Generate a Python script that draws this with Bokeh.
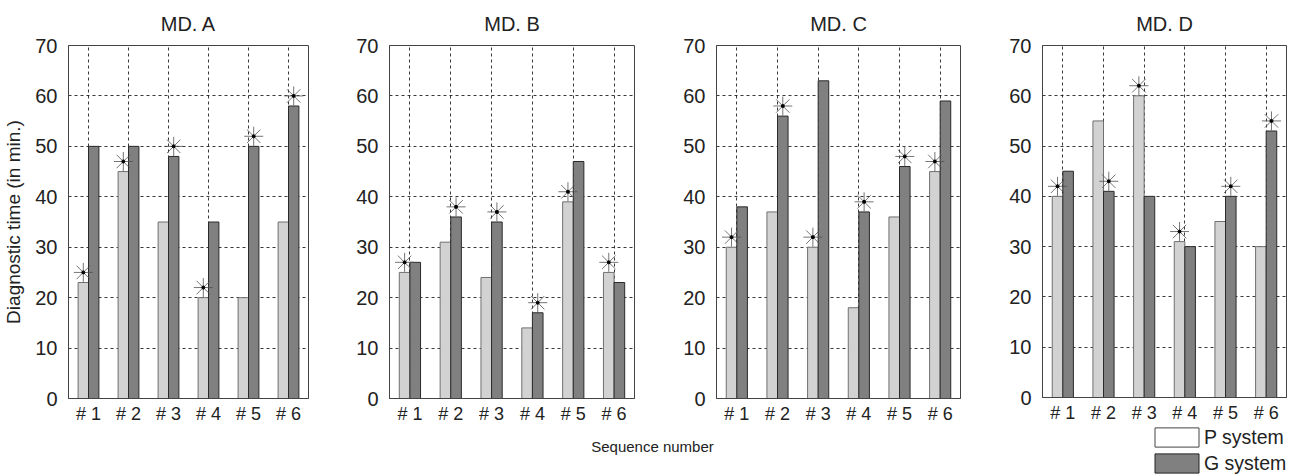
import numpy as np
from bokeh.plotting import figure
from bokeh.layouts import row, column
from bokeh.models import (ColumnDataSource, Range1d, FixedTicker, Label, Legend, LegendItem)
from bokeh.transform import dodge
from bokeh.embed import file_html
from bokeh.resources import INLINE

# ---------------- data ----------------
sequences = [1, 2, 3, 4, 5, 6]
tick_labels = ["# 1", "# 2", "# 3", "# 4", "# 5", "# 6"]
panel_titles = ["MD. A", "MD. B", "MD. C", "MD. D"]

p_system_a = [23, 45, 35, 20, 20, 35]
g_system_a = [50, 50, 48, 35, 50, 58]
star_side_a = ["P", "P", "G", "P", "G", "G"]
star_val_a = [25, 47, 50, 22, 52, 60]

p_system_b = [25, 31, 24, 14, 39, 25]
g_system_b = [27, 36, 35, 17, 47, 23]
star_side_b = ["P", "G", "G", "G", "P", "P"]
star_val_b = [27, 38, 37, 19, 41, 27]

p_system_c = [30, 37, 30, 18, 36, 45]
g_system_c = [38, 56, 63, 37, 46, 59]
star_side_c = ["P", "G", "P", "G", "G", "P"]
star_val_c = [32, 58, 32, 39, 48, 47]

p_system_d = [40, 55, 60, 31, 35, 30]
g_system_d = [45, 41, 40, 30, 40, 53]
star_side_d = ["P", "G", "P", "P", "G", "G"]
star_val_d = [42, 43, 62, 33, 42, 55]

y_ticks = [0, 10, 20, 30, 40, 50, 60, 70]
legend_labels = ["P system", "G system"]

series = [
    (p_system_a, g_system_a, star_side_a, star_val_a),
    (p_system_b, g_system_b, star_side_b, star_val_b),
    (p_system_c, g_system_c, star_side_c, star_val_c),
    (p_system_d, g_system_d, star_side_d, star_val_d),
]

# ---------------- style ----------------
FONT = "Liberation Sans"
TXT = "#222222"
P_FILL, P_LINE = "#d2d2d2", "#707070"
G_FILL, G_LINE = "#808080", "#2a2a2a"
BAR_W = 0.26

widths = [316, 326, 326, 337]
lefts = [63, 73, 74, 74]
rights = [8, 8, 8, 19]
heights = [428, 428, 428, 425]
FULL_H = 475
TOP = 42
FRAME_BOTTOM = 398

figs = []
for i, (pv, gv, side, sv) in enumerate(series):
    h = heights[i]
    p = figure(width=widths[i], height=h, output_backend="svg",
               toolbar_location=None, x_range=Range1d(0.5, 6.5),
               y_range=Range1d(0, 70),
               min_border_left=lefts[i], min_border_right=rights[i],
               min_border_top=TOP, min_border_bottom=h - FRAME_BOTTOM)
    p.title.text = panel_titles[i]
    p.title.align = "center"
    p.title.text_font = FONT
    p.title.text_font_size = "20px"
    p.title.text_font_style = "normal"
    p.title.text_color = TXT
    p.title.standoff = 21

    src = ColumnDataSource(dict(x=sequences, p=pv, g=gv))
    p.vbar(x=dodge("x", -BAR_W / 2), top="p", width=BAR_W, bottom=0,
           source=src, fill_color=P_FILL, line_color=P_LINE, line_width=1)
    p.vbar(x=dodge("x", BAR_W / 2), top="g", width=BAR_W, bottom=0,
           source=src, fill_color=G_FILL, line_color=G_LINE, line_width=1)

    sx = [s + (-BAR_W / 2 if side[k] == "P" else BAR_W / 2)
          for k, s in enumerate(sequences)]
    ssrc = ColumnDataSource(dict(x=sx, y=sv))
    p.scatter(x="x", y="y", source=ssrc, marker="asterisk", size=19,
              line_color="#505050", line_width=0.8)
    p.scatter(x="x", y="y", source=ssrc, marker="circle", size=3,
              fill_color="#000000", line_color="#000000")

    p.xaxis.ticker = FixedTicker(ticks=sequences)
    p.xaxis.major_label_overrides = {s: t for s, t in zip(sequences, tick_labels)}
    p.yaxis.ticker = FixedTicker(ticks=y_ticks)
    p.xgrid.ticker = FixedTicker(ticks=sequences)
    p.ygrid.ticker = FixedTicker(ticks=y_ticks)

    for ax in (p.xaxis[0], p.yaxis[0]):
        ax.major_tick_line_color = None
        ax.minor_tick_line_color = None
        ax.axis_line_color = "#444444"
        ax.major_label_text_font = FONT
        ax.major_label_text_color = TXT
    p.xaxis.major_label_text_font_size = "18px"
    p.yaxis.major_label_text_font_size = "20px"
    p.xaxis.major_label_standoff = -1
    p.yaxis.major_label_standoff = 5

    if i == 0:
        p.yaxis.axis_label = "Diagnostic time (in min.)"
        p.yaxis.axis_label_text_font = FONT
        p.yaxis.axis_label_text_font_size = "19px"
        p.yaxis.axis_label_text_font_style = "normal"
        p.yaxis.axis_label_text_color = TXT
        p.yaxis.axis_label_standoff = 8

    for g in (p.xgrid[0], p.ygrid[0]):
        g.grid_line_color = "#222222"
        g.grid_line_dash = "3 3"
        g.grid_line_width = 1
        g.grid_line_alpha = 0.9

    p.outline_line_color = "#444444"
    p.outline_line_alpha = 1
    p.background_fill_color = "white"
    p.border_fill_color = "white"
    figs.append(p)


def strip(width, height):
    s = figure(width=width, height=height, output_backend="svg",
               toolbar_location=None,
               x_range=Range1d(0, 1), y_range=Range1d(0, 1),
               min_border=0, min_border_left=0, min_border_right=0,
               min_border_top=0, min_border_bottom=0)
    s.axis.visible = False
    s.grid.visible = False
    s.outline_line_color = None
    return s


# bottom strip under panels A-C with the shared x label
STRIP_H = FULL_H - heights[0]
b = strip(sum(widths[:3]), STRIP_H)
b.add_layout(Label(x=652, y=STRIP_H - 18, x_units="screen", y_units="screen",
                   text="Sequence number", text_align="center",
                   text_baseline="middle", text_font=FONT,
                   text_font_size="15px", text_color=TXT))

# bottom strip under panel D with the legend (its frame aligns with D's frame)
LEG_H = FULL_H - heights[3]
bd = strip(widths[3], LEG_H)
rp = bd.vbar(x=[np.nan], top=[np.nan], width=BAR_W, fill_color="white",
             line_color="#444444")
rg = bd.vbar(x=[np.nan], top=[np.nan], width=BAR_W, fill_color=G_FILL,
             line_color="#222222")
leg = Legend(items=[LegendItem(label=legend_labels[0], renderers=[rp]),
                    LegendItem(label=legend_labels[1], renderers=[rg])],
             location=(107, 0), orientation="vertical",
             glyph_width=55, glyph_height=24, spacing=2, padding=0, margin=0,
             label_standoff=-5, label_text_font=FONT,
             label_text_font_size="19.5px", label_text_color=TXT,
             label_height=24, border_line_color=None,
             background_fill_alpha=0)
bd.add_layout(leg)

layout = row(column(row(*figs[:3], spacing=0), b, spacing=0),
             column(figs[3], bd, spacing=0), spacing=0)

open("out.html", "w").write(file_html(layout, INLINE))
